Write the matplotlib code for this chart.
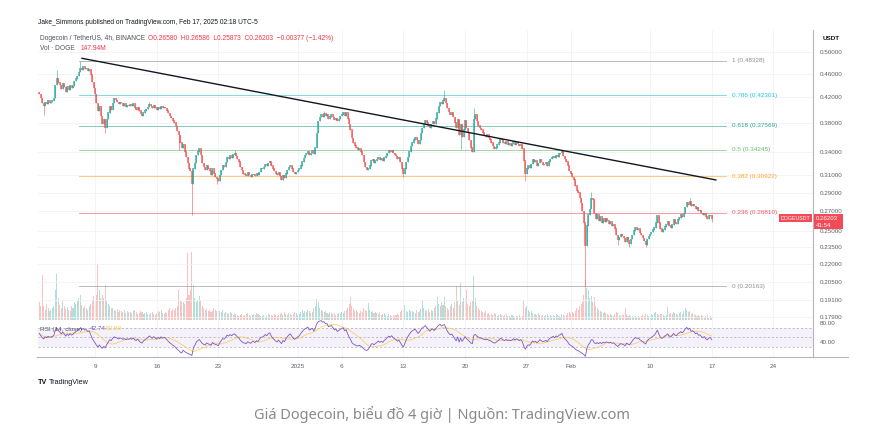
import matplotlib
matplotlib.use("Agg")
import matplotlib.pyplot as plt
import matplotlib.dates as mdates
from matplotlib.lines import Line2D
from matplotlib.patches import Rectangle
from matplotlib.ticker import NullLocator, NullFormatter
import numpy as np
import pandas as pd

W, H = 877, 447

# 4h closes DOGE/USDT, first bar 2024-12-02 16:00
FIRST_BAR = "2024-12-02 16:00"
FIRST_OPEN = 0.428
CLOSES = [
    0.425, 0.418,                                   # Dec 2
    0.410, 0.405, 0.412, 0.409, 0.414, 0.411,       # Dec 3
    0.412, 0.414, 0.418, 0.440, 0.452, 0.444,       # Dec 4
    0.440, 0.433, 0.442, 0.436, 0.428, 0.437,       # Dec 5
    0.432, 0.440, 0.435, 0.438, 0.446, 0.451,       # Dec 6
    0.455, 0.462, 0.470, 0.466, 0.472, 0.468,       # Dec 7
    0.470, 0.465, 0.468, 0.458, 0.445, 0.435,       # Dec 8
    0.425, 0.410, 0.398, 0.405, 0.390, 0.378,       # Dec 9
    0.385, 0.372, 0.385, 0.395, 0.405, 0.400,       # Dec 10
    0.410, 0.418, 0.415, 0.412, 0.408, 0.412,       # Dec 11
    0.410, 0.406, 0.409, 0.404, 0.407, 0.405,       # Dec 12
    0.408, 0.405, 0.409, 0.403, 0.400, 0.404,       # Dec 13
    0.398, 0.393, 0.390, 0.395, 0.398, 0.401,       # Dec 14
    0.404, 0.408, 0.405, 0.402, 0.406, 0.403,       # Dec 15
    0.400, 0.404, 0.401, 0.405, 0.402, 0.404,       # Dec 16
    0.402, 0.398, 0.394, 0.390, 0.387, 0.383,       # Dec 17
    0.380, 0.375, 0.368, 0.362, 0.352, 0.345,       # Dec 18
    0.350, 0.340, 0.333, 0.325, 0.318, 0.315,       # Dec 19
    0.300, 0.318, 0.325, 0.335, 0.340, 0.344,       # Dec 20
    0.335, 0.325, 0.320, 0.316, 0.322, 0.318,       # Dec 21
    0.315, 0.310, 0.318, 0.312, 0.308, 0.306,       # Dec 22
    0.303, 0.310, 0.316, 0.322, 0.320, 0.326,       # Dec 23
    0.333, 0.330, 0.335, 0.332, 0.336, 0.338,       # Dec 24
    0.334, 0.330, 0.327, 0.320, 0.316, 0.312,       # Dec 25
    0.311, 0.309, 0.313, 0.310, 0.308, 0.311,       # Dec 26
    0.311, 0.309, 0.312, 0.310, 0.314, 0.318,       # Dec 27
    0.318, 0.320, 0.323, 0.321, 0.325, 0.327,       # Dec 28
    0.322, 0.318, 0.315, 0.312, 0.310, 0.313,       # Dec 29
    0.309, 0.305, 0.310, 0.307, 0.312, 0.316,       # Dec 30
    0.320, 0.322, 0.318, 0.314, 0.312, 0.314,       # Dec 31
    0.316, 0.318, 0.322, 0.327, 0.331, 0.335,       # Jan 1
    0.337, 0.340, 0.336, 0.338, 0.341, 0.337,       # Jan 2
    0.345, 0.365, 0.382, 0.388, 0.392, 0.389,       # Jan 3
    0.394, 0.390, 0.392, 0.386, 0.389, 0.392,       # Jan 4
    0.388, 0.384, 0.387, 0.382, 0.385, 0.390,       # Jan 5
    0.392, 0.396, 0.390, 0.395, 0.386, 0.378,       # Jan 6
    0.370, 0.358, 0.352, 0.348, 0.345, 0.342,       # Jan 7
    0.344, 0.340, 0.335, 0.326, 0.320, 0.316,       # Jan 8
    0.318, 0.322, 0.328, 0.330, 0.325, 0.328,       # Jan 9
    0.330, 0.333, 0.329, 0.331, 0.328, 0.332,       # Jan 10
    0.334, 0.338, 0.341, 0.339, 0.342, 0.338,       # Jan 11
    0.336, 0.334, 0.330, 0.332, 0.326, 0.318,       # Jan 12
    0.312, 0.318, 0.326, 0.333, 0.340, 0.347,       # Jan 13
    0.352, 0.356, 0.359, 0.355, 0.350, 0.355,       # Jan 14
    0.365, 0.372, 0.378, 0.384, 0.380, 0.376,       # Jan 15
    0.372, 0.378, 0.382, 0.378, 0.386, 0.395,       # Jan 16
    0.405, 0.412, 0.408, 0.414, 0.418, 0.410,       # Jan 17
    0.402, 0.396, 0.392, 0.395, 0.388, 0.380,       # Jan 18
    0.372, 0.385, 0.362, 0.378, 0.360, 0.370,       # Jan 19
    0.383, 0.372, 0.365, 0.355, 0.345, 0.340,       # Jan 20
    0.385, 0.392, 0.382, 0.376, 0.372, 0.370,       # Jan 21
    0.366, 0.362, 0.360, 0.363, 0.358, 0.356,       # Jan 22
    0.352, 0.347, 0.343, 0.345, 0.349, 0.352,       # Jan 23
    0.358, 0.356, 0.352, 0.350, 0.353, 0.349,       # Jan 24
    0.351, 0.348, 0.350, 0.353, 0.349, 0.352,       # Jan 25
    0.350, 0.347, 0.349, 0.344, 0.328, 0.312,       # Jan 26
    0.318, 0.322, 0.319, 0.324, 0.330, 0.326,       # Jan 27
    0.328, 0.322, 0.325, 0.330, 0.326, 0.323,       # Jan 28
    0.324, 0.326, 0.322, 0.327, 0.330, 0.332,       # Jan 29
    0.334, 0.331, 0.335, 0.333, 0.337, 0.338,       # Jan 30
    0.341, 0.334, 0.330, 0.327, 0.322, 0.315,       # Jan 31
    0.312, 0.308, 0.305, 0.298, 0.292, 0.290,       # Feb 1
    0.284, 0.278, 0.270, 0.258, 0.236, 0.255,       # Feb 2
    0.266, 0.272, 0.284, 0.282, 0.268, 0.262,       # Feb 3
    0.266, 0.260, 0.264, 0.258, 0.262, 0.259,       # Feb 4
    0.262, 0.260, 0.257, 0.259, 0.255, 0.256,       # Feb 5
    0.252, 0.246, 0.241, 0.244, 0.247, 0.245,       # Feb 6
    0.243, 0.239, 0.244, 0.241, 0.238, 0.242,       # Feb 7
    0.246, 0.250, 0.253, 0.251, 0.252, 0.248,       # Feb 8
    0.246, 0.243, 0.240, 0.237, 0.242, 0.245,       # Feb 9
    0.247, 0.249, 0.251, 0.253, 0.258, 0.265,       # Feb 10
    0.258, 0.252, 0.249, 0.251, 0.254, 0.256,       # Feb 11
    0.259, 0.255, 0.253, 0.256, 0.261, 0.258,       # Feb 12
    0.257, 0.261, 0.263, 0.266, 0.264, 0.268,       # Feb 13
    0.274, 0.279, 0.276, 0.280, 0.275, 0.277,       # Feb 14
    0.275, 0.272, 0.274, 0.270, 0.271, 0.268,       # Feb 15
    0.266, 0.268, 0.264, 0.262, 0.265, 0.2658,      # Feb 16
    0.26203,                                        # Feb 17
]

# volume per 4h bar, million DOGE
VOLUMES = [
    900, 700,
    2250, 700, 500, 800, 600, 450,
    500, 600, 700, 1500, 2300, 1100,
    750, 600, 1000, 700, 550, 650,
    500, 450, 700, 600, 900, 800,
    1000, 1100, 1250, 750, 600, 700,
    600, 500, 700, 800, 1000, 1200,
    1000, 1250, 2800, 1500, 1100, 1250,
    1100, 1750, 1000, 800, 700, 600,
    600, 500, 450, 550, 400, 500,
    450, 400, 500, 350, 450, 400,
    400, 350, 450, 500, 400, 300,
    350, 450, 400, 300, 350, 400,
    300, 250, 350, 400, 300, 250,
    350, 450, 400, 500, 350, 300,
    400, 350, 500, 600, 450, 550,
    500, 600, 700, 1500, 1000, 900,
    900, 800, 1100, 3350, 1250, 1500,
    3400, 1750, 1100, 900, 1000, 1200,
    1000, 700, 600, 500, 550, 450,
    500, 400, 450, 600, 500, 450,
    550, 450, 400, 500, 350, 400,
    350, 300, 400, 350, 250, 300,
    300, 250, 200, 250, 300, 200,
    250, 300, 350, 250, 200, 250,
    300, 250, 350, 300, 250, 200,
    200, 250, 150, 200, 300, 250,
    250, 200, 300, 250, 200, 250,
    300, 350, 250, 400, 300, 250,
    350, 300, 250, 300, 400, 350,
    250, 300, 400, 500, 350, 450,
    400, 500, 450, 350, 400, 600,
    700, 1050, 900, 600, 500, 450,
    400, 450, 350, 300, 400, 350,
    300, 350, 250, 300, 350, 300,
    400, 350, 450, 500, 600, 800,
    1150, 700, 550, 450, 500, 400,
    350, 450, 400, 600, 500, 450,
    850, 500, 400, 450, 350, 400,
    350, 300, 400, 250, 300, 350,
    250, 200, 300, 250, 200, 250,
    200, 250, 300, 250, 400, 500,
    500, 750, 450, 400, 500, 450,
    450, 400, 350, 500, 400, 450,
    550, 1000, 600, 500, 450, 550,
    400, 500, 450, 600, 700, 1150,
    800, 700, 900, 750, 1150, 700,
    600, 500, 700, 800, 600, 900,
    1700, 1000, 750, 1850, 900, 1100,
    1000, 1500, 800, 700, 900, 1000,
    2200, 1100, 700, 600, 500, 450,
    400, 350, 450, 300, 350, 250,
    300, 250, 350, 300, 200, 250,
    300, 250, 200, 250, 300, 200,
    200, 150, 250, 200, 150, 200,
    200, 250, 150, 200, 1000, 600,
    700, 500, 400, 450, 350, 300,
    300, 250, 350, 250, 200, 250,
    200, 250, 300, 200, 250, 200,
    250, 200, 300, 250, 200, 150,
    300, 250, 200, 250, 350, 400,
    300, 400, 350, 450, 600, 500,
    700, 800, 900, 1250, 2000, 1600,
    1500, 1100, 1200, 900, 1150, 700,
    600, 500, 450, 400, 350, 400,
    350, 300, 250, 300, 250, 200,
    300, 400, 350, 250, 200, 250,
    250, 600, 300, 200, 250, 200,
    200, 150, 200, 150, 200, 150,
    200, 250, 200, 300, 250, 200,
    250, 300, 250, 350, 400, 300,
    250, 300, 300, 250, 200, 250,
    650, 300, 350, 300, 400, 350,
    300, 250, 350, 400, 300, 450,
    600, 500, 400, 450, 300, 350,
    300, 250, 200, 250, 200, 250,
    200, 150, 200, 250, 150, 200,
    147.94,
]

# bars with visible wicks
WICK_HIGHS = {
    "2024-12-04 16:00": 0.466, "2024-12-07 08:00": 0.48328,
    "2024-12-15 04:00": 0.412, "2024-12-24 20:00": 0.342,
    "2025-01-04 00:00": 0.398, "2025-01-17 16:00": 0.432,
    "2025-01-21 00:00": 0.402, "2025-02-03 08:00": 0.291,
    "2025-02-14 12:00": 0.284, "2025-02-17 00:00": 0.26586,
}
WICK_LOWS = {
    "2024-12-03 04:00": 0.392, "2024-12-10 04:00": 0.366,
    "2024-12-18 12:00": 0.342, "2024-12-20 00:00": 0.266,
    "2024-12-22 20:00": 0.300, "2025-01-13 00:00": 0.308,
    "2025-01-19 12:00": 0.343, "2025-01-26 20:00": 0.303,
    "2025-02-02 16:00": 0.20163, "2025-02-06 08:00": 0.237,
    "2025-02-07 16:00": 0.235, "2025-02-09 12:00": 0.235,
    "2025-02-17 00:00": 0.25873,
}

FIB_LEVELS = ["1", "0.786", "0.618", "0.5", "0.382", "0.236", "0"]
FIB_PRICES = [0.48328, 0.42301, 0.37569, 0.34245, 0.30922, 0.26810, 0.20163]
FIB_COLORS = ["#787b86", "#00bcd4", "#089981", "#4caf50", "#ff9800", "#f23645", "#787b86"]
FIB_START = "2024-12-07 04:00"
FIB_END = "2025-02-18 15:00"

TREND_DATES = ["2024-12-07 12:00", "2025-02-17 12:00"]
TREND_PRICES = [0.488, 0.3045]

PRICE_TICKS = [0.5, 0.46, 0.42, 0.38, 0.34, 0.31, 0.29, 0.27, 0.25, 0.235, 0.22, 0.205, 0.191, 0.179]
DATE_TICKS = ["2024-12-09", "2024-12-16", "2024-12-23", "2025-01-01", "2025-01-06", "2025-01-13",
              "2025-01-20", "2025-01-27", "2025-02-01", "2025-02-10", "2025-02-17", "2025-02-24"]
DATE_LABELS = ["9", "16", "23", "2025", "6", "13", "20", "27", "Feb", "10", "17", "24"]
RSI_TICKS = [40, 80]

UP, DOWN = "#26a69a", "#ef5350"
GRID = "#f0f2f6"
AXIS_TXT = "#5d606b"

plt.rcParams["font.family"] = ["Liberation Sans", "DejaVu Sans"]


def fx(px):
    return px / W


def fy(py):
    return 1 - py / H


n = min(len(CLOSES), len(VOLUMES))
closes = np.array(CLOSES[:n])
vols = np.array(VOLUMES[:n])
times = pd.date_range(FIRST_BAR, periods=n, freq="4h")
x = mdates.date2num(times)
opens = np.concatenate([[FIRST_OPEN], closes[:-1]])
opens[-1] = 0.26580
highs = np.maximum(opens, closes)
lows = np.minimum(opens, closes)
keys = times.strftime("%Y-%m-%d %H:%M")
for i, k in enumerate(keys):
    if k in WICK_HIGHS:
        highs[i] = max(highs[i], WICK_HIGHS[k])
    if k in WICK_LOWS:
        lows[i] = min(lows[i], WICK_LOWS[k])
up = closes >= opens
colors = np.where(up, UP, DOWN)

# RSI 14 (Wilder), seeded with the average of the first 14 moves
delta = np.diff(closes)
gain = np.clip(delta, 0, None)
loss = np.clip(-delta, 0, None)
ag, al = gain[:14].mean(), loss[:14].mean()
rsi = [100 - 100 / (1 + ag / al)]
for g, l in zip(gain, loss):
    ag = (ag * 13 + g) / 14
    al = (al * 13 + l) / 14
    rsi.append(100 - 100 / (1 + ag / al))
rsi = np.array(rsi)
rsi_ma = pd.Series(rsi).rolling(14, min_periods=1).mean().values

xlim = (mdates.date2num(pd.Timestamp("2024-12-02 12:40")), mdates.date2num(pd.Timestamp("2025-02-28 12:00")))

fig = plt.figure(figsize=(W / 100, H / 100), dpi=100)
fig.patch.set_facecolor("white")

price_rect = [fx(38), fy(320), fx(813) - fx(38), (320 - 30) / H]
rsi_rect = [fx(38), fy(357), fx(813) - fx(38), (357 - 320) / H]

# volume underlay
vax = fig.add_axes(price_rect)
vax.bar(x, vols, width=4 / 24 * 0.7, color=colors, alpha=0.35, linewidth=0)
vax.set_ylim(0, 14500)
vax.set_xlim(*xlim)
vax.axis("off")

ax = fig.add_axes(price_rect, sharex=vax)
ax.patch.set_visible(False)
ax.set_yscale("log")
ax.set_ylim(0.1770, 0.5445)
ax.set_xlim(*xlim)
for s in ax.spines.values():
    s.set_visible(False)
ax.yaxis.tick_right()
ax.set_yticks(PRICE_TICKS)
ax.set_yticklabels([f"{p:.5f}" for p in PRICE_TICKS])
ax.yaxis.set_minor_locator(NullLocator())
ax.yaxis.set_minor_formatter(NullFormatter())
ax.tick_params(axis="y", length=0, pad=5, labelsize=4.5, labelcolor=AXIS_TXT)
date_x = mdates.date2num(pd.to_datetime(DATE_TICKS))
ax.set_xticks(date_x)
ax.tick_params(axis="x", length=0, labelbottom=False)
ax.grid(True, color=GRID, linewidth=0.6)
ax.set_axisbelow(True)

# candles
ax.vlines(x, lows, highs, colors=colors, linewidth=0.5, alpha=0.8, zorder=3)
body_lo = np.minimum(opens, closes)
body_hi = np.maximum(opens, closes) * 1.0015
ax.vlines(x, body_lo, body_hi, colors=colors, linewidth=1.4, alpha=0.7, zorder=3)

# fibonacci retracement
f0, f1 = mdates.date2num(pd.Timestamp(FIB_START)), mdates.date2num(pd.Timestamp(FIB_END))
for lvl, p, c in zip(FIB_LEVELS, FIB_PRICES, FIB_COLORS):
    ax.plot([f0, f1], [p, p], color=c, linewidth=0.6, alpha=0.6, zorder=2)
    ax.annotate(f"{lvl} ({p:.5f})", (f1, p), xytext=(4, 0), textcoords="offset points",
                fontsize=4.6, color=c, va="center", ha="left", alpha=0.85)

# trendline
ax.plot(mdates.date2num(pd.to_datetime(TREND_DATES)), TREND_PRICES, color="#131722",
        linewidth=1.0, zorder=4, solid_capstyle="round")

# RSI pane
rax = fig.add_axes(rsi_rect, sharex=vax)
rax.set_ylim(8.4, 86.3)
rax.set_xlim(*xlim)
for s in rax.spines.values():
    s.set_visible(False)
rax.axhspan(30, 70, color="#7e57c2", alpha=0.08, linewidth=0)
for lv in (70, 50, 30):
    rax.axhline(lv, color="#9598a1", linewidth=0.5, linestyle=(0, (3, 3)), alpha=0.8)
rax.plot(x, rsi_ma, color="#f7c948", linewidth=0.6, alpha=0.8)
rax.plot(x, rsi, color="#7e57c2", linewidth=0.6)
rax.yaxis.tick_right()
rax.set_yticks(RSI_TICKS)
rax.set_yticklabels([f"{v:.2f}" for v in RSI_TICKS])
rax.tick_params(axis="y", length=0, pad=5, labelsize=4.5, labelcolor=AXIS_TXT)
rax.set_xticks(date_x)
rax.set_xticklabels(DATE_LABELS)
rax.tick_params(axis="x", length=0, pad=5, labelsize=4.6, labelcolor=AXIS_TXT)
rax.grid(True, axis="x", color=GRID, linewidth=0.6)

# frame lines
fig.add_artist(Line2D([fx(37), fx(848)], [fy(357), fy(357)], color="#b2b5be", linewidth=0.8))
fig.add_artist(Line2D([fx(813), fx(813)], [fy(30), fy(357)], color="#b2b5be", linewidth=0.8))

# header
fig.text(fx(38), fy(22), "Jake_Simmons published on TradingView.com, Feb 17, 2025 02:18 UTC-5",
         fontsize=4.8, color="#131722", va="center")
fig.text(fx(40), fy(38), "Dogecoin / TetherUS, 4h, BINANCE", fontsize=4.8, color="#50535e", va="center")
fig.text(fx(148), fy(38), "O0.26580  H0.26586  L0.25873  C0.26203  \u22120.00377 (\u22121.42%)",
         fontsize=4.8, color="#f23645", va="center")
fig.text(fx(40), fy(48.5), "Vol \u00b7 DOGE", fontsize=4.8, color="#50535e", va="center")
fig.text(fx(81), fy(48.5), "147.94M", fontsize=4.8, color="#f23645", va="center")
fig.text(fx(823), fy(38), "USDT", fontsize=4.6, color="#131722", va="center", fontweight="bold")

# RSI legend
fig.text(fx(40), fy(329), "RSI (14, close)", fontsize=4.6, color="#50535e", va="center")
fig.text(fx(90), fy(329), "42.74", fontsize=4.6, color="#7e57c2", va="center")
fig.text(fx(106), fy(329), f"{rsi_ma[-1]:.2f}", fontsize=4.6, color="#f7c948", va="center")

# last price labels
fig.add_artist(Rectangle((fx(779), fy(222)), fx(812) - fx(779), 7.5 / H, transform=fig.transFigure,
                         facecolor="#f23645", edgecolor="none", alpha=0.9))
fig.text(fx(795.5), fy(218.2), "DOGEUSDT", fontsize=3.8, color="white", ha="center", va="center")
fig.add_artist(Rectangle((fx(813), fy(229)), fx(843) - fx(813), 15 / H, transform=fig.transFigure,
                         facecolor="#f23645", edgecolor="none", alpha=0.9))
fig.text(fx(816), fy(218), "0.26203", fontsize=4.4, color="white", va="center")
fig.text(fx(816), fy(225), "41:54", fontsize=4.4, color="white", va="center")

# TradingView mark
fig.text(fx(38), fy(383), "TV", fontsize=5.2, color="#131722", va="center", fontweight="bold")
fig.text(fx(49), fy(383), "TradingView", fontsize=5.2, color="#131722", va="center")

# caption
fig.text(fx(442), fy(415), "Giá Dogecoin, biểu đồ 4 giờ | Nguồn: TradingView.com", fontsize=10.5,
         color="#8a8a8a", ha="center", va="center", family=["Noto Sans", "DejaVu Sans"])

fig.savefig("out.png", dpi=100)
